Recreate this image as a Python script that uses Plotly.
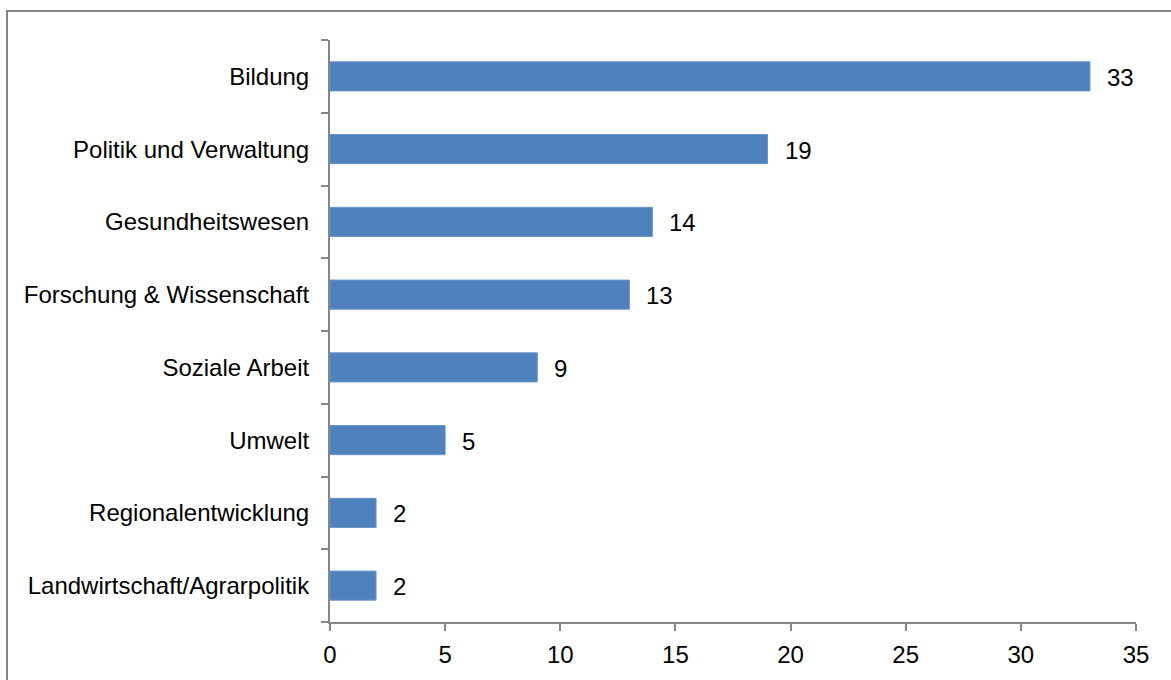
import plotly.graph_objects as go

categories = [
    "Bildung",
    "Politik und Verwaltung",
    "Gesundheitswesen",
    "Forschung & Wissenschaft",
    "Soziale Arbeit",
    "Umwelt",
    "Regionalentwicklung",
    "Landwirtschaft/Agrarpolitik",
]
values = [33, 19, 14, 13, 9, 5, 2, 2]
x_ticks = [0, 5, 10, 15, 20, 25, 30, 35]

W, H = 1171, 680
ML, MR, MT, MB = 330, 35, 40, 50
PW, PH = W - ML - MR, H - MT - MB

AXIS_GREY = "#868686"
BAR_BLUE = "#4F81BD"
FONT = "Arial, Liberation Sans, sans-serif"


def px_to_paper_x(px):
    return (px - ML) / PW


def px_to_paper_y(py):
    return (H - MB - py) / PH


fig = go.Figure(
    go.Bar(
        x=values,
        y=categories,
        orientation="h",
        width=0.4,
        marker=dict(color=BAR_BLUE, line=dict(color="#6A94C8", width=1)),
        hoverinfo="x+y",
    )
)

# value labels to the right of each bar
for c, v in zip(categories, values):
    fig.add_annotation(
        x=v, y=c, text=str(v), showarrow=False,
        xanchor="left", xshift=15, yshift=-1,
        font=dict(family=FONT, size=24, color="#000000"),
    )

# outer frame of the chart area
fig.add_shape(
    type="rect", xref="paper", yref="paper",
    x0=px_to_paper_x(7), x1=px_to_paper_x(W + 20),
    y0=px_to_paper_y(H + 20), y1=px_to_paper_y(10.5),
    line=dict(color=AXIS_GREY, width=2), layer="below",
)

fig.update_layout(
    width=W, height=H,
    margin=dict(l=ML, r=MR, t=MT, b=MB, pad=0),
    paper_bgcolor="white", plot_bgcolor="white",
    showlegend=False,
    font=dict(family=FONT, size=24, color="#000000"),
    xaxis=dict(
        range=[0, 35], tickvals=x_ticks, ticktext=[str(t) for t in x_ticks],
        showgrid=False, zeroline=False,
        showline=True, linecolor=AXIS_GREY, linewidth=2,
        ticks="outside", ticklen=7, tickwidth=2, tickcolor=AXIS_GREY,
        ticklabelstandoff=3,
        tickfont=dict(family=FONT, size=24, color="#000000"),
    ),
    yaxis=dict(
        type="category", categoryorder="array",
        categoryarray=categories[::-1],
        range=[-0.5, len(categories) - 0.5],
        tickson="boundaries",
        showgrid=False, zeroline=False,
        showline=True, linecolor=AXIS_GREY, linewidth=2,
        ticks="outside", ticklen=7, tickwidth=2, tickcolor=AXIS_GREY,
        ticklabelstandoff=14,
        tickfont=dict(family=FONT, size=24, color="#000000"),
    ),
)

fig.write_html("out.html")
